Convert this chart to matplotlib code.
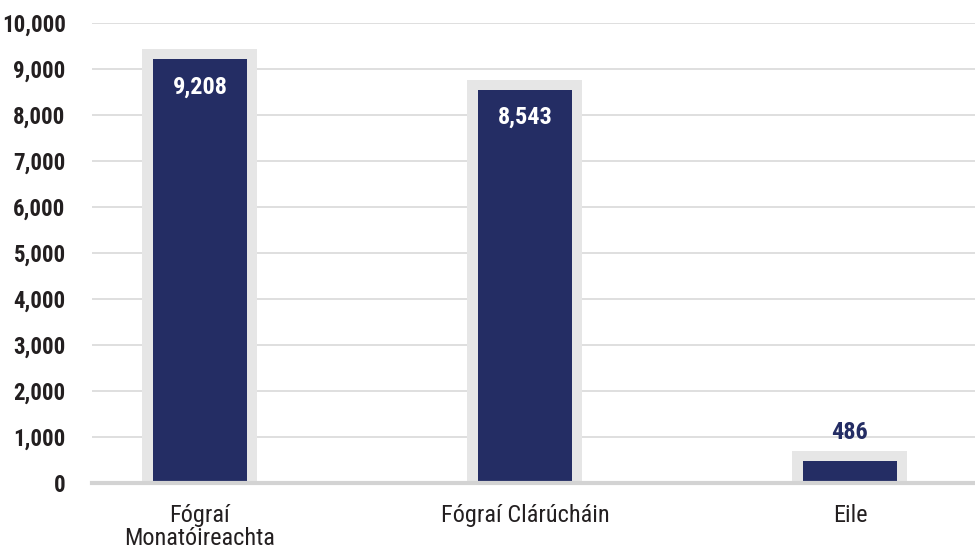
import matplotlib
matplotlib.use("Agg")
import matplotlib.pyplot as plt
from matplotlib import font_manager

categories = ["Fógraí\nMonatóireachta", "Fógraí Clárúcháin", "Eile"]
values = [9208, 8543, 486]
value_labels = ["9,208", "8,543", "486"]
yticks = [0, 1000, 2000, 3000, 4000, 5000, 6000, 7000, 8000, 9000, 10000]
ytick_labels = ["0", "1,000", "2,000", "3,000", "4,000", "5,000", "6,000", "7,000", "8,000", "9,000", "10,000"]

names = {f.name for f in font_manager.fontManager.ttflist}
fam = "Roboto Condensed" if "Roboto Condensed" in names else "Roboto"
plt.rcParams["font.family"] = [fam, "DejaVu Sans"]

NAVY = "#242d64"
GREY = "#e6e6e6"

fig = plt.figure(figsize=(9.75, 5.5), dpi=100)
ax = fig.add_axes([92/975, 1-483/550, 1-92/975, (483-23)/550])
ax.set_xlim(-0.332, 2.385)
ax.set_ylim(0, 10000)

pad = 10/46*1000  # grey frame above bar (data units)
x = list(range(len(categories)))
ax.bar(x, [v + pad for v in values], width=0.354, color=GREY, zorder=2)
ax.bar(x, values, width=0.29, color=NAVY, zorder=3)

for xi, v, lab in zip(x, values, value_labels):
    if v > 2000:
        ax.text(xi, v - 600, lab, ha="center", va="center", color="white",
                fontsize=17.5, fontweight="bold", zorder=4)
    else:
        ax.text(xi, v + pad + 390, lab, ha="center", va="center", color=NAVY,
                fontsize=17.5, fontweight="bold", zorder=4)

ax.set_yticks(yticks)
ax.set_yticklabels(ytick_labels, fontsize=16.5, fontweight="bold", color="#231f20")
ax.set_xticks(x)
ax.set_xticklabels(categories, fontsize=17.5, color="#231f20", linespacing=1.0)
ax.tick_params(axis="both", length=0)
ax.tick_params(axis="y", pad=19)
ax.tick_params(axis="x", pad=15)

ax.grid(axis="y", color="#d9d9d9", linewidth=1.2, zorder=0)
ax.set_axisbelow(True)
for s in ax.spines.values():
    s.set_visible(False)
ax.axhline(0, color="#d3d3d3", linewidth=3, zorder=5, clip_on=False)

fig.savefig("out.png", dpi=100)
